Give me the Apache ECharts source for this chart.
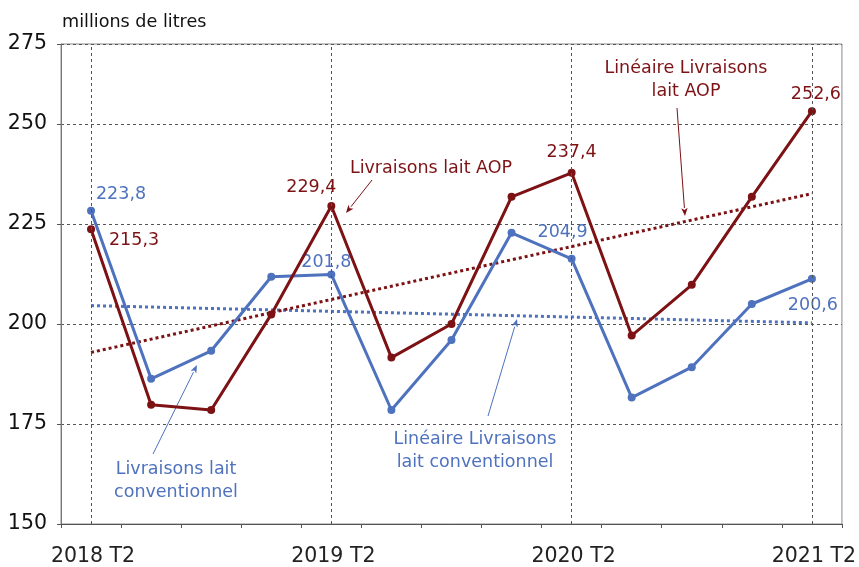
<!DOCTYPE html>
<html><head><meta charset="utf-8">
<script src="https://cdn.jsdelivr.net/npm/echarts@6/dist/echarts.min.js"></script>
<style>html,body{margin:0;padding:0;background:#fff}#c{width:859px;height:567px}</style>
</head><body><div id="c"></div>
<script>
// ---- data ----
const categories = ['2018 T2','2018 T3','2018 T4','2019 T1','2019 T2','2019 T3','2019 T4','2020 T1','2020 T2','2020 T3','2020 T4','2021 T1','2021 T2'];
const conventionnel = [228.3,186.3,193.3,211.8,212.4,178.5,196.0,222.8,216.3,181.6,189.2,205.0,211.3];
const aop = [223.7,179.8,178.5,202.4,229.5,191.6,200.0,231.8,237.8,197.1,209.8,231.8,253.2];
const trendConventionnel = [204.6,null,null,null,null,null,null,null,null,null,null,null,200.3];
const trendAop = [192.9,null,null,null,null,null,null,null,null,null,null,null,232.6];
const labelsConventionnel = ['223,8',null,null,null,'201,8',null,null,null,'204,9',null,null,null,'200,6'];
const labelsAop = ['215,3',null,null,null,'229,4',null,null,null,'237,4',null,null,null,'252,6'];
const yTickLabels = ['150','175','200','225','250','275'];
const markedCategories = ['2018 T2','2019 T2','2020 T2','2021 T2'];
const unitLabel = 'millions de litres';

// ---- styles ----
const BLUE = '#4E72BE', RED = '#7D1215', FONT = 'DejaVu Sans';
const offConv = {0:[30,-16],4:[-5,-12],8:[-9,-26],12:[1,27]};
const offAop = {0:[43,11],4:[-20,-19],8:[0,-20],12:[4,-17]};

function withLabels(vals, labels, offs, color){
  return vals.map((v,i)=> labels[i] ? {value:v, label:{show:true, formatter:labels[i], position:'inside',
    offset:offs[i], color:color, fontSize:17.5, fontFamily:FONT}} : v);
}
function arrow(x1,y1,x2,y2,color){
  const a = Math.atan2(y2-y1,x2-x1), L=8, W=3.2;
  const bx = x2 - L*Math.cos(a), by = y2 - L*Math.sin(a);
  const px = -Math.sin(a)*W, py = Math.cos(a)*W;
  return [
    {type:'line', shape:{x1:x1,y1:y1,x2:bx,y2:by}, style:{stroke:color, lineWidth:1}, silent:true},
    {type:'polygon', shape:{points:[[x2,y2],[bx+px,by+py],[bx+L*0.25*Math.cos(a),by+L*0.25*Math.sin(a)],[bx-px,by-py]]}, style:{fill:color}, silent:true}
  ];
}
function txt(text,x,y,color){
  return {type:'text', silent:true, style:{text:text, x:x, y:y, fill:color, font:'17.5px "'+FONT+'"', textAlign:'center', textVerticalAlign:'middle', lineHeight:23}};
}

const chart = echarts.init(document.getElementById('c'), null, {renderer:'canvas'});
chart.setOption({
  animation:false,
  backgroundColor:'#fff',
  grid:{left:61, right:16, top:44, bottom:43, show:true, borderColor:'#8a8a8a', borderWidth:1},
  xAxis:{type:'category', data:categories, boundaryGap:true,
    axisLine:{lineStyle:{color:'#555', width:1}},
    axisTick:{show:true, interval:0, length:4, lineStyle:{color:'#555'}},
    axisLabel:{interval:3, color:'#222', fontSize:20.5, fontFamily:FONT, margin:22, padding:[0,0,0,4]},
    splitLine:{show:false}},
  yAxis:{type:'value', min:150, max:270, interval:25,
    axisLine:{show:true, lineStyle:{color:'#777'}},
    axisTick:{show:true, length:4, lineStyle:{color:'#555'}},
    axisLabel:{color:'#111', fontSize:20.5, fontFamily:FONT, margin:14,
      formatter:(v,i)=> yTickLabels[i] !== undefined ? yTickLabels[i] : ''},
    splitLine:{show:true, lineStyle:{color:'#555', type:[3,3], width:1}}},
  series:[
    {type:'line', name:'Linéaire Livraisons lait conventionnel', data:trendConventionnel, connectNulls:true, showSymbol:false,
      lineStyle:{color:BLUE, width:3, type:[3,3]}, z:2,
      markLine:{silent:true, symbol:['none','none'], label:{show:false},
        lineStyle:{color:'#555', type:[3,3], width:1}, data:markedCategories.map(c=>({xAxis:c}))}},
    {type:'line', name:'Linéaire Livraisons lait AOP', data:trendAop, connectNulls:true, showSymbol:false,
      lineStyle:{color:RED, width:3, type:[3,3]}, z:2},
    {type:'line', name:'Livraisons lait conventionnel', data:withLabels(conventionnel,labelsConventionnel,offConv,BLUE),
      symbol:'circle', symbolSize:8, itemStyle:{color:BLUE}, lineStyle:{color:BLUE, width:3}, z:3},
    {type:'line', name:'Livraisons lait AOP', data:withLabels(aop,labelsAop,offAop,RED),
      symbol:'circle', symbolSize:8, itemStyle:{color:RED}, lineStyle:{color:RED, width:3}, z:4}
  ],
  graphic:[
    {type:'text', silent:true, style:{text:unitLabel, x:62, y:22, fill:'#111', font:'17.6px "'+FONT+'"', textAlign:'left', textVerticalAlign:'middle'}},
    txt('Livraisons lait\nconventionnel',176,481,BLUE),
    ...arrow(153,454,197,365,BLUE),
    txt('Livraisons lait AOP',431,168,RED),
    ...arrow(372,180,346,213,RED),
    txt('Linéaire Livraisons\nlait conventionnel',475,451,BLUE),
    ...arrow(488,416,517,319,BLUE),
    txt('Linéaire Livraisons\nlait AOP',686,80,RED),
    ...arrow(677,108,685,216,RED)
  ]
});
</script></body></html>
